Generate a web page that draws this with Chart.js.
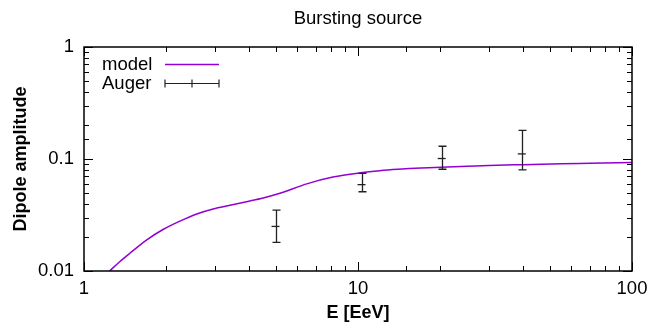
<!DOCTYPE html>
<html>
<head>
<meta charset="utf-8">
<script src="https://cdn.jsdelivr.net/npm/chart.js@4"></script>
<style>
   html, body { margin: 0; padding: 0; background: #fff; }
   #wrap { width: 660px; height: 330px; }
</style>
</head>
<body>
<div id="wrap"><canvas id="chart" width="660" height="330"></canvas></div>
<script>
// model curve
const modelE = [1.24, 1.35, 1.47, 1.69, 1.95, 2.24, 2.58, 2.96, 3.41, 3.92, 4.51, 5.19, 6.5, 8.1, 10.2, 12, 14, 17, 20, 25, 30, 40, 55, 70, 100];
const modelA = [0.010, 0.0121, 0.0144, 0.0189, 0.0236, 0.0279, 0.0323, 0.0358, 0.0386, 0.0416, 0.0449, 0.0494, 0.0600, 0.0690, 0.0752, 0.0785, 0.0808, 0.083, 0.0843, 0.086, 0.0875, 0.089, 0.0905, 0.0915, 0.093];

// Auger points with error bars
const augerE = [5, 10.3, 20.2, 39.6];
const augerA = [0.025, 0.059, 0.101, 0.111];
const augerLow = [0.018, 0.051, 0.081, 0.080];
const augerHigh = [0.035, 0.0745, 0.13, 0.18];

const xTicks = [1, 10, 100];
const yTicks = [0.01, 0.1, 1];

const PURPLE = "#9400d3";
const FONT = "'Liberation Sans', Arial, sans-serif";

const isDecade = (v) => Math.abs(Math.log10(v) - Math.round(Math.log10(v))) < 1e-6;

// gnuplot style frame + inward ticks on all four sides
const framePlugin = {
   id: "frame",
   afterDraw(chart) {
      const ctx = chart.ctx;
      const a = chart.chartArea;
      const xs = chart.scales.x;
      const ys = chart.scales.y;
      ctx.save();
      ctx.strokeStyle = "#000";
      ctx.lineWidth = 1;
      ctx.beginPath();
      xs.ticks.forEach((t) => {
         const px = Math.round(xs.getPixelForValue(t.value)) + 0.5;
         const len = isDecade(t.value) ? 9 : 5;
         ctx.moveTo(px, a.bottom);
         ctx.lineTo(px, a.bottom - len);
         ctx.moveTo(px, a.top);
         ctx.lineTo(px, a.top + len);
      });
      ys.ticks.forEach((t) => {
         const py = Math.round(ys.getPixelForValue(t.value)) + 0.5;
         const len = isDecade(t.value) ? 9 : 5;
         ctx.moveTo(a.left, py);
         ctx.lineTo(a.left + len, py);
         ctx.moveTo(a.right, py);
         ctx.lineTo(a.right - len, py);
      });
      ctx.stroke();
      ctx.lineWidth = 1.5;
      ctx.strokeRect(a.left, a.top, a.right - a.left, a.bottom - a.top);

      // legend
      ctx.font = "18.5px " + FONT;
      ctx.fillStyle = "#000";
      ctx.textBaseline = "middle";
      ctx.textAlign = "left";
      ctx.fillText("model", 102, 65);
      ctx.fillText("Auger", 102, 84);
      ctx.strokeStyle = PURPLE;
      ctx.lineWidth = 1.5;
      ctx.beginPath();
      ctx.moveTo(165, 64.5);
      ctx.lineTo(219, 64.5);
      ctx.stroke();
      ctx.strokeStyle = "#222";
      ctx.lineWidth = 1.2;
      ctx.beginPath();
      ctx.moveTo(165, 83.5);
      ctx.lineTo(219, 83.5);
      [165, 192, 219].forEach((x) => {
         ctx.moveTo(x, 79.5);
         ctx.lineTo(x, 87.5);
      });
      ctx.stroke();
      ctx.restore();
   },
};

const errorBarPlugin = {
   id: "errorBars",
   afterDatasetsDraw(chart) {
      const ctx = chart.ctx;
      const xs = chart.scales.x;
      const ys = chart.scales.y;
      ctx.save();
      ctx.strokeStyle = "#222";
      ctx.lineWidth = 1.3;
      ctx.beginPath();
      augerE.forEach((e, i) => {
         const px = Math.round(xs.getPixelForValue(e)) + 0.5;
         const top = ys.getPixelForValue(augerHigh[i]);
         const bot = ys.getPixelForValue(augerLow[i]);
         ctx.moveTo(px, top);
         ctx.lineTo(px, bot);
         ctx.moveTo(px - 4, top);
         ctx.lineTo(px + 4, top);
         ctx.moveTo(px - 4, bot);
         ctx.lineTo(px + 4, bot);
      });
      ctx.stroke();
      ctx.restore();
   },
};

new Chart(document.getElementById("chart"), {
   type: "scatter",
   data: {
      datasets: [
         {
            label: "model",
            data: modelE.map((e, i) => ({ x: e, y: modelA[i] })),
            showLine: true,
            borderColor: PURPLE,
            borderWidth: 1.5,
            pointRadius: 0,
            cubicInterpolationMode: "monotone",
         },
         {
            label: "Auger",
            data: augerE.map((e, i) => ({ x: e, y: augerA[i] })),
            showLine: false,
            pointStyle: "line",
            pointRadius: 4,
            borderWidth: 1.3,
            borderColor: "#222",
         },
      ],
   },
   options: {
      responsive: false,
      animation: false,
      layout: { padding: { left: 0, right: 28, top: 0, bottom: 0 } },
      plugins: {
         legend: { display: false },
         tooltip: { enabled: false },
         title: {
            display: true,
            text: "Bursting source",
            fullSize: false,
            color: "#000",
            font: { family: FONT, size: 18.5, weight: "normal" },
            padding: { top: 8, bottom: 16.8 },
         },
      },
      scales: {
         x: {
            type: "logarithmic",
            min: 1,
            max: 100,
            afterFit: (s) => { s.height = 59; },
            grid: { display: false, drawTicks: false, tickLength: 0 },
            border: { display: false },
            ticks: {
               autoSkip: false,
               maxRotation: 0,
               padding: 7,
               color: "#000",
               font: { family: FONT, size: 18.5 },
               callback: (v) => (xTicks.includes(v) ? String(v) : ""),
            },
            title: {
               display: true,
               text: "E [EeV]",
               color: "#000",
               font: { family: FONT, size: 18, weight: "bold" },
               padding: { top: 4, bottom: 6 },
            },
         },
         y: {
            type: "logarithmic",
            min: 0.01,
            max: 1,
            afterFit: (s) => { s.width = 84; },
            grid: { display: false, drawTicks: false, tickLength: 0 },
            border: { display: false },
            ticks: {
               autoSkip: false,
               padding: 10,
               color: "#000",
               font: { family: FONT, size: 18.5 },
               callback: (v) => (yTicks.some((t) => Math.abs(t - v) < 1e-9) ? String(v) : ""),
            },
            title: {
               display: true,
               text: "Dipole amplitude",
               color: "#000",
               font: { family: FONT, size: 18, weight: "bold" },
               padding: { top: 10, bottom: 0 },
            },
         },
      },
   },
   plugins: [framePlugin, errorBarPlugin],
});
</script>
</body>
</html>
